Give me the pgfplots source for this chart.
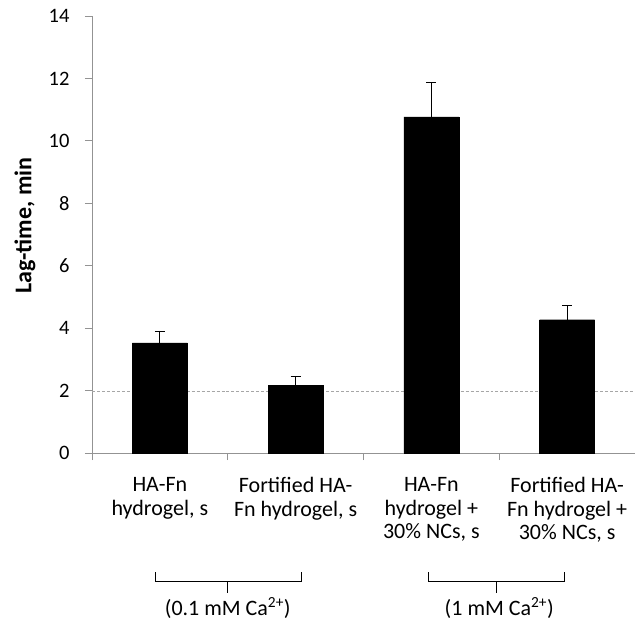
\documentclass[border=0pt]{standalone}
\usepackage{fontspec}
\setmainfont{Carlito}
\usepackage{pgfplots}
\pgfplotsset{compat=1.18}
\begin{document}
\begin{tikzpicture}[font=\fontsize{20.5bp}{24bp}\selectfont]
\begin{axis}[name=ax,
  width=543bp, height=437bp, scale only axis,
  xmin=-0.5, xmax=3.5, ymin=0, ymax=14,
  clip=false,
  axis x line=bottom, axis y line=left,
  axis line style={-, draw=gray!85, line width=0.9bp},
  tick align=outside, major tick length=7bp,
  ytick={0,2,...,14},
  ytick style={draw=gray!85, line width=0.8bp},
  yticklabel style={xshift=-12bp},
  /pgf/number format/assume math mode=true,
  xtick={0,1,2,3},
  xtick style={draw=none},
  xticklabels={{HA-Fn\\hydrogel, s},{Fortified HA-\\Fn hydrogel, s},{HA-Fn\\hydrogel +\\30\% NCs, s},{Fortified HA-\\Fn hydrogel +\\30\% NCs, s}},
  xticklabel style={align=center, yshift=-14bp, font=\fontsize{22bp}{23.5bp}\selectfont},
  extra x ticks={-0.5,0.5,1.5,2.5},
  extra x tick labels={},
  extra x tick style={xtick style={draw=gray!85, line width=0.8bp}},
  ylabel={\textbf{Lag-time, min}},
  every axis y label/.style={at={(axis description cs:0,0.52)}, xshift=-67bp, rotate=90, anchor=center, font=\fontsize{24bp}{28bp}\selectfont},
  ybar, bar width=0.405,
]
\addplot[ybar=0pt, draw=gray!70, densely dashed, line width=0.9bp, sharp plot, forget plot] coordinates {(-0.5,1.97) (3.5,1.97)};
\addplot[fill=black, draw=black,
  error bars/.cd, y dir=plus, y explicit,
  error bar style={black, line width=0.8bp},
  error mark options={rotate=90, mark size=5bp, black, line width=0.8bp}]
  coordinates {
  (0,3.53) +- (0,0.38)
  (1,2.17) +- (0,0.29)
  (2,10.77) +- (0,1.10)
  (3,4.27) +- (0,0.47)
  };
\draw[black, line width=1bp] ([yshift=-119bp]axis cs:-0.03,0) -- ([yshift=-128bp]axis cs:-0.03,0) -- ([yshift=-128bp]axis cs:1.04,0) -- ([yshift=-119bp]axis cs:1.04,0);
\draw[black, line width=1bp] ([yshift=-128bp]axis cs:0.5,0) -- ([yshift=-140bp]axis cs:0.5,0);
\draw[black, line width=1bp] ([yshift=-119bp]axis cs:1.98,0) -- ([yshift=-128bp]axis cs:1.98,0) -- ([yshift=-128bp]axis cs:2.98,0) -- ([yshift=-119bp]axis cs:2.98,0);
\draw[black, line width=1bp] ([yshift=-128bp]axis cs:2.48,0) -- ([yshift=-140bp]axis cs:2.48,0);
\node[font=\fontsize{22bp}{24bp}\selectfont] at ([yshift=-155bp]axis cs:0.5,0) {(0.1 mM Ca\textsuperscript{2+})};
\node[font=\fontsize{22bp}{24bp}\selectfont] at ([yshift=-155bp]axis cs:2.5,0) {(1 mM Ca\textsuperscript{2+})};
\end{axis}
\pgfresetboundingbox
\useasboundingbox ([xshift=-92bp,yshift=-167bp]ax.south west) rectangle ++(635bp,620bp);
\end{tikzpicture}
\end{document}
